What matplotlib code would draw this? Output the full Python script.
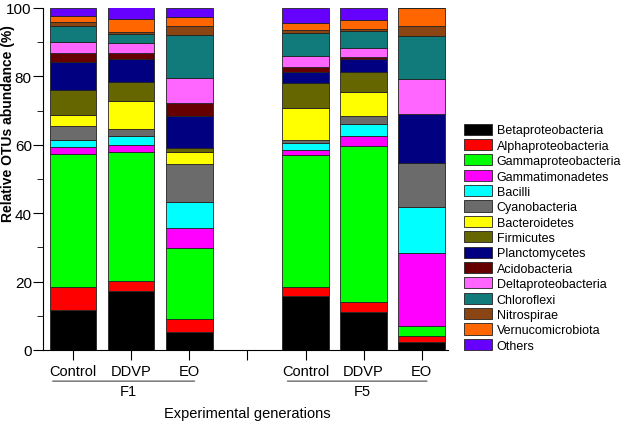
import matplotlib
matplotlib.use("Agg")
import matplotlib.pyplot as plt
from matplotlib.patches import Patch
from matplotlib.ticker import MultipleLocator
import numpy as np

plt.rcParams['font.family'] = ['Liberation Sans', 'DejaVu Sans']

tick_labels = ["Control", "DDVP", "EO", "", "Control", "DDVP", "EO"]
groups = ["F1", "F5"]

taxa = ["Betaproteobacteria", "Alphaproteobacteria", "Gammaproteobacteria",
        "Gammatimonadetes", "Bacilli", "Cyanobacteria", "Bacteroidetes",
        "Firmicutes", "Planctomycetes", "Acidobacteria", "Deltaproteobacteria",
        "Chloroflexi", "Nitrospirae", "Vernucomicrobiota", "Others"]

colors = ["#000000", "#ff0000", "#00ff00", "#ff00ff", "#00ffff", "#6b6b6b",
          "#ffff00", "#666600", "#000080", "#660000", "#ff66ff", "#117b7b",
          "#8b4513", "#ff6600", "#6600ff"]

# one list per sample, values in taxa order (bottom to top)
f1_control = [11.8, 6.5, 38.9, 2.2, 2.1, 4.0, 3.3, 7.3, 8.0, 2.7, 3.3, 4.5, 1.2, 1.8, 2.4]
f1_ddvp    = [17.2, 3.0, 37.8, 1.8, 2.7, 2.2, 8.1, 5.6, 6.6, 1.9, 2.8, 2.8, 0.4, 3.9, 3.4]
f1_eo      = [5.4, 3.7, 20.6, 5.9, 7.8, 10.9, 3.7, 1.0, 9.3, 3.8, 7.3, 12.7, 2.5, 2.7, 2.7]
f5_control = [15.9, 2.5, 38.7, 1.4, 2.0, 1.0, 9.3, 7.3, 3.2, 1.5, 3.3, 6.5, 0.9, 2.1, 4.4]
f5_ddvp    = [11.2, 2.9, 45.6, 2.9, 3.4, 2.4, 7.1, 5.8, 3.7, 0.8, 2.6, 5.0, 0.5, 2.7, 3.4]
f5_eo      = [2.2, 2.0, 2.9, 21.3, 13.5, 12.8, 0.0, 0.0, 14.2, 0.0, 10.2, 12.8, 2.7, 5.4, 0.0]

samples = [f1_control, f1_ddvp, f1_eo, f5_control, f5_ddvp, f5_eo]
positions = [0, 1, 2, 4, 5, 6]

fig = plt.figure(figsize=(6.22, 4.27), dpi=100)
ax = fig.add_axes([0.069, 0.178, 0.651, 0.801])

data = np.array(samples)
bottom = np.zeros(len(samples))
for i, name in enumerate(taxa):
    ax.bar(positions, data[:, i], bottom=bottom, width=0.8, color=colors[i],
           edgecolor="#222222", linewidth=0.6)
    bottom += data[:, i]

ax.set_xlim(-0.52, 6.45)
ax.set_ylim(0, 100)
ax.set_xticks(range(7))
ax.set_xticklabels(tick_labels, fontsize=10.5)
ax.yaxis.set_major_locator(MultipleLocator(20))
ax.yaxis.set_minor_locator(MultipleLocator(10))
ax.tick_params(axis="y", which="major", length=7, labelsize=11, pad=1)
ax.tick_params(axis="y", which="minor", length=4)
ax.tick_params(axis="x", length=7, pad=3)
for s in ["top", "right"]:
    ax.spines[s].set_visible(False)
ax.set_ylabel("Relative OTUs abundance (%)", fontsize=10, fontweight="bold")
ax.yaxis.set_label_coords(-0.069, 0.664)

# group lines and labels
for (x0, x1), xc, g in zip([(-0.4, 2.14), (3.64, 6.14)], [0.95, 4.97], groups):
    ax.annotate("", xy=(x0, -0.091), xytext=(x1, -0.091),
                xycoords=("data", "axes fraction"),
                arrowprops=dict(arrowstyle="-", color="#444444", lw=0.8))
    ax.text(xc, -0.1, g, transform=ax.get_xaxis_transform(),
            ha="center", va="top", fontsize=10.5)
ax.text(3, -0.163, "Experimental generations", transform=ax.get_xaxis_transform(),
        ha="center", va="top", fontsize=10.5)

handles = [Patch(facecolor=c, edgecolor="#222222", linewidth=0.6) for c in colors]
fig.legend(handles, taxa, loc="upper left", bbox_to_anchor=(0.738, 0.72),
           frameon=False, fontsize=9, handlelength=2.25, handleheight=1.0,
           labelspacing=0.2, handletextpad=0.35, borderaxespad=0)

fig.savefig("out.png", dpi=100)
